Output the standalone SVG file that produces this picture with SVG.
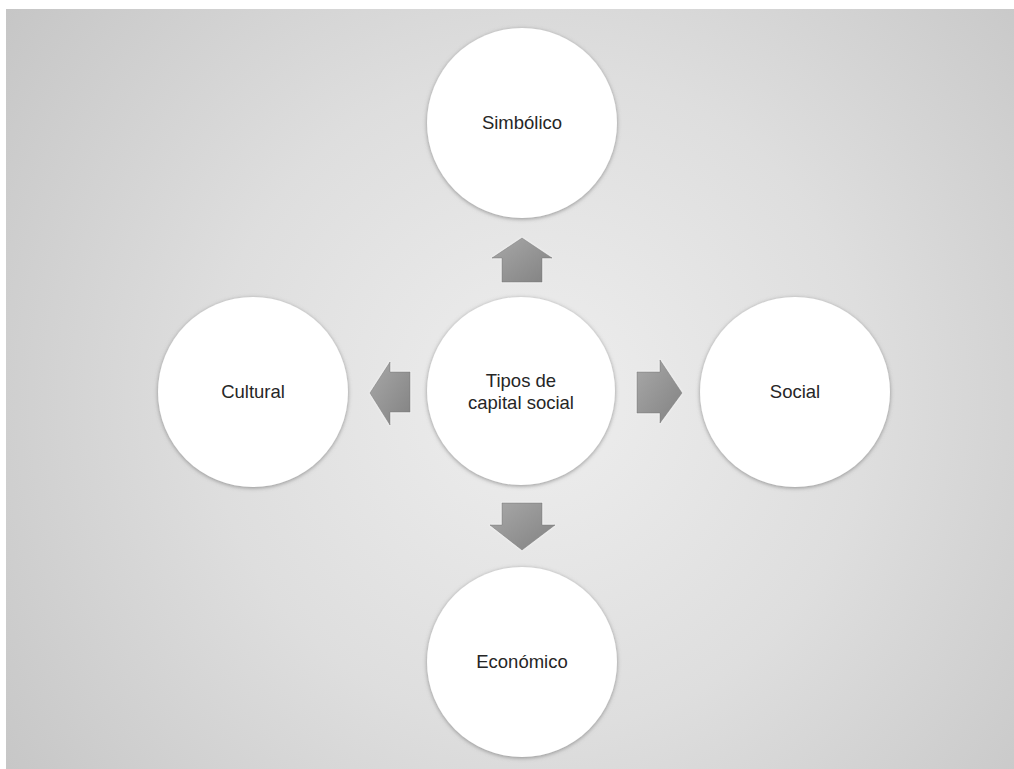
<svg xmlns="http://www.w3.org/2000/svg" width="1014" height="769" viewBox="0 0 1014 769">
  <defs>
    <radialGradient id="bg" cx="540" cy="400" r="660" gradientUnits="userSpaceOnUse">
      <stop offset="0" stop-color="#eeeeee"/>
      <stop offset="0.5" stop-color="#dedede"/>
      <stop offset="1" stop-color="#c6c6c6"/>
    </radialGradient>
    <linearGradient id="arrowFill" x1="0" y1="0" x2="1" y2="1">
      <stop offset="0" stop-color="#a8a8a8"/>
      <stop offset="1" stop-color="#828282"/>
    </linearGradient>
    <filter id="rim" x="-10%" y="-10%" width="120%" height="120%">
      <feDropShadow dx="0" dy="1" stdDeviation="2" flood-color="#6e6e6e" flood-opacity="0.7"/>
    </filter>
    <filter id="soft" x="-20%" y="-20%" width="140%" height="140%">
      <feDropShadow dx="0" dy="0" stdDeviation="1" flood-color="#ffffff" flood-opacity="0.8"/>
    </filter>
  </defs>
  <style>
    .node { fill: #ffffff; filter: url(#rim); }
    .label { font-family: "Liberation Sans", Arial, sans-serif; font-size: 18.5px; fill: #262626; text-anchor: middle; }
    .arrow { fill: url(#arrowFill); stroke: #7a7a7a; stroke-width: 0.6; filter: url(#soft); }
  </style>

  <rect width="1014" height="769" fill="#ffffff"/>
  <rect x="6" y="9" width="1008" height="760" fill="url(#bg)"/>

  <!-- arrows from the centre toward each outer circle -->
  <g id="connectors">
    <polygon class="arrow" points="522,238 552,258 542,258 542,282 502,282 502,258 492,258"/>
    <polygon class="arrow" points="370,393 390,362 390,372 410,372 410,412 390,412 390,425"/>
    <polygon class="arrow" points="682,393 660,360 660,372 637,372 637,413 660,413 660,423"/>
    <polygon class="arrow" points="522,550 555,525 542,525 542,503 502,503 502,525 490,525"/>
  </g>

  <g id="centre">
    <circle class="node" cx="521" cy="391" r="94"/>
    <text class="label" x="521" y="387">Tipos de</text>
    <text class="label" x="521" y="409">capital social</text>
  </g>

  <g id="simbolico">
    <circle class="node" cx="522" cy="123" r="95"/>
    <text class="label" x="522" y="129">Simbólico</text>
  </g>

  <g id="cultural">
    <circle class="node" cx="253" cy="392" r="95"/>
    <text class="label" x="253" y="398">Cultural</text>
  </g>

  <g id="social">
    <circle class="node" cx="795" cy="392" r="95"/>
    <text class="label" x="795" y="398">Social</text>
  </g>

  <g id="economico">
    <circle class="node" cx="522" cy="662" r="95"/>
    <text class="label" x="522" y="668">Económico</text>
  </g>
</svg>
